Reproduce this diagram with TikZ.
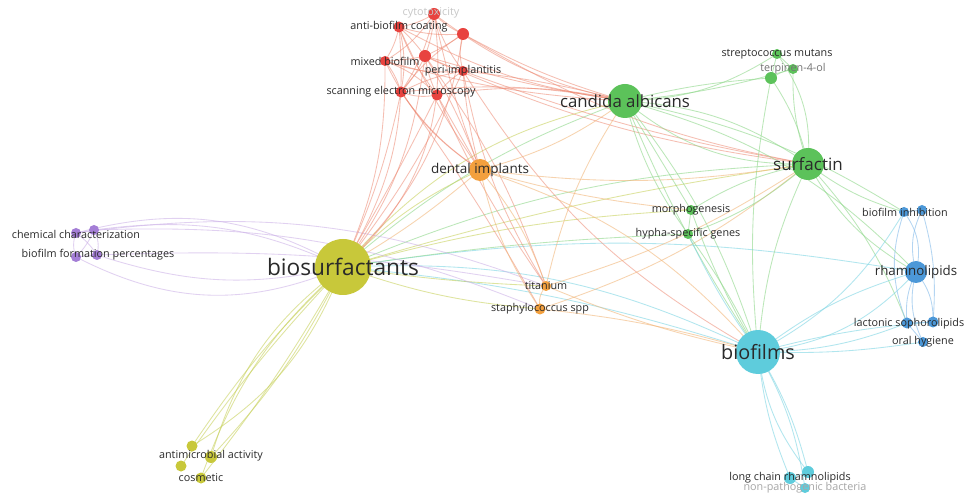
\documentclass[tikz,border=0pt]{standalone}
\usepackage{fontspec}
\setmainfont{Open Sans}
\pgfdeclarelayer{bg}\pgfdeclarelayer{fg}
\pgfsetlayers{bg,main,fg}
\definecolor{cR}{HTML}{E8433F}
\definecolor{cO}{HTML}{F3A03E}
\definecolor{cY}{HTML}{C8C83A}
\definecolor{cG}{HTML}{5CC25A}
\definecolor{cB}{HTML}{4C98D8}
\definecolor{cC}{HTML}{5ECCDC}
\definecolor{cP}{HTML}{A47ED6}
\definecolor{eRc}{HTML}{EE8A74}
\definecolor{eOc}{HTML}{F2B679}
\definecolor{eYc}{HTML}{C9D25E}
\definecolor{eGc}{HTML}{8FD88A}
\definecolor{eCc}{HTML}{7ED6E4}
\definecolor{eBc}{HTML}{8CC0EC}
\definecolor{ePc}{HTML}{CDB3E8}
\definecolor{txt}{HTML}{2A2A2A}
\begin{document}
\begin{tikzpicture}[x=1pt,y=-1pt,
  nR/.style={circle,inner sep=0pt,fill=cR,minimum size=#1},
  nO/.style={circle,inner sep=0pt,fill=cO,minimum size=#1},
  nY/.style={circle,inner sep=0pt,fill=cY,minimum size=#1},
  nG/.style={circle,inner sep=0pt,fill=cG,minimum size=#1},
  nB/.style={circle,inner sep=0pt,fill=cB,minimum size=#1},
  nC/.style={circle,inner sep=0pt,fill=cC,minimum size=#1},
  nP/.style={circle,inner sep=0pt,fill=cP,minimum size=#1},
  lab/.style={font=\fontsize{10.8}{13}\selectfont,text=txt,inner sep=0pt},
  faint/.style={font=\fontsize{10.8}{13}\selectfont,text=black!22,inner sep=0pt},
  eR/.style={draw=eRc,line width=0.85pt,opacity=0.55},
  eO/.style={draw=eOc,line width=0.85pt,opacity=0.6},
  eY/.style={draw=eYc,line width=0.85pt,opacity=0.6},
  eG/.style={draw=eGc,line width=0.85pt,opacity=0.6},
  eC/.style={draw=eCc,line width=0.85pt,opacity=0.6},
  eB/.style={draw=eBc,line width=0.85pt,opacity=0.65},
  eP/.style={draw=ePc,line width=0.85pt,opacity=0.6}]
\useasboundingbox (0,0) rectangle (964,494);
\begin{pgfonlayer}{bg}
\fill[white] (0,0) rectangle (964,494);
\end{pgfonlayer}
% nodes
\node[nY=56] (bs) at (343,267) {};
\node[nY=12] (am) at (211,457) {};
\node[nY=11] (y2) at (192,446) {};
\node[nY=11] (y3) at (181,466) {};
\node[nY=11] (cos) at (201,478) {};
\node[nP=10] (cc) at (76,233) {};
\node[nP=10] (p2) at (94,230) {};
\node[nP=10] (p3) at (76,257) {};
\node[nP=10] (bfp) at (97,255) {};
\node[nR=12] (cyt) at (434,14) {};
\node[nR=11] (abc) at (399,27) {};
\node[nR=12] (r3) at (463,34) {};
\node[nR=12] (r4) at (425,56) {};
\node[nR=10] (mb) at (385,61) {};
\node[nR=10] (pi) at (463,71) {};
\node[nR=11] (sem) at (401,92) {};
\node[nR=11] (r8) at (437,95) {};
\node[nO=22] (di) at (480,170) {};
\node[nO=10] (ti) at (546,286) {};
\node[nO=11] (st) at (540,309) {};
\node[nG=34] (ca) at (625,101) {};
\node[nG=32] (su) at (808,164) {};
\node[nG=10] (sm) at (777,54) {};
\node[nG=10] (tp) at (793,69) {};
\node[nG=12] (g3) at (771,78) {};
\node[nG=10] (mo) at (691,210) {};
\node[nG=10] (hy) at (688,234) {};
\node[nB=22] (rh) at (916,272) {};
\node[nB=10] (bi) at (904,212) {};
\node[nB=10] (b2) at (922,210) {};
\node[nB=11] (ls) at (907,323) {};
\node[nB=11] (b4) at (933,322) {};
\node[nB=10] (oh) at (923,342) {};
\node[nC=44] (bf) at (758,352) {};
\node[nC=12] (c1) at (808,472) {};
\node[nC=12] (lcr) at (790,478) {};
\node[nC=10] (npb) at (805,488) {};
% edges
\begin{pgfonlayer}{bg}
\foreach \a/\b/\s/\k in {bs/ca/eY/18, bs/ca/eG/10, bs/su/eG/10, bs/su/eY/4, bs/bf/eC/14, bs/bf/eC/6, bs/rh/eC/9,
 bs/mo/eY/6, bs/hy/eG/3, bs/ti/eY/-3, bs/st/eY/-7, bs/di/eY/10, bs/di/eO/-5,
 bs/am/eY/-18, bs/am/eY/8, bs/y2/eY/18, bs/y3/eY/-4, bs/cos/eY/-14, bs/cos/eY/4, bs/y2/eY/-6,
 cc/p2/eP/0, cc/bfp/eP/10, p2/p3/eP/10, p3/bfp/eP/0, cc/p3/eP/-20, p2/bfp/eP/20,
 cc/bs/eP/22, p2/bs/eP/16, bfp/bs/eP/-15, p3/bs/eP/-25, cc/ti/eP/14, p2/st/eP/12, bfp/ti/eP/6,
 cyt/abc/eR/10, cyt/r3/eR/-10, cyt/r4/eR/8, cyt/mb/eR/12, cyt/sem/eR/10, cyt/pi/eR/-10,
 abc/r3/eR/-10, abc/r4/eR/5, abc/mb/eR/10, abc/sem/eR/12, abc/r8/eR/-8, r3/r4/eR/5,
 r3/pi/eR/-15, r4/mb/eR/5, r4/pi/eR/-6, r4/sem/eR/8, r4/r8/eR/-8, mb/sem/eR/10,
 mb/r8/eR/12, pi/r8/eR/-10, pi/sem/eR/-8, sem/r8/eR/-15, r3/sem/eR/-10, mb/pi/eR/-12,
 cyt/ca/eR/-12, r3/ca/eR/-6, r4/ca/eR/-4, pi/ca/eR/4, abc/ca/eR/-10, mb/ca/eR/-6, r8/ca/eR/10, sem/ca/eR/8,
 r3/su/eR/-10, pi/su/eR/-5, r4/su/eR/-8,
 cyt/bs/eR/28, abc/bs/eR/18, mb/bs/eR/12, sem/bs/eR/6, r8/bs/eR/2, r4/bs/eR/14, r3/bs/eR/18, pi/bs/eR/6,
 sem/di/eR/-10, r8/di/eR/0, pi/di/eR/-5, r4/di/eR/5, mb/di/eR/-15, abc/di/eR/-5, cyt/di/eR/-4,
 r8/ti/eR/-5, pi/ti/eR/-10, sem/st/eR/3, r4/ti/eR/8, pi/bf/eR/-14,
 di/ca/eO/-10, di/su/eO/-8, di/ti/eO/10, di/st/eO/-10, di/bf/eO/15, di/mo/eO/-5,
 ti/st/eO/-25, ti/bf/eO/-5, st/bf/eO/5, ti/ca/eO/10, st/su/eO/-10, ti/su/eO/-8,
 ca/su/eG/-20, ca/su/eG/15, ca/sm/eG/-15, ca/tp/eG/-5, ca/g3/eG/5, ca/mo/eG/0, ca/hy/eG/-10,
 ca/bf/eG/-5, ca/bf/eG/10, ca/rh/eG/15, ca/bi/eG/10,
 su/sm/eG/-20, su/tp/eG/10, su/g3/eG/-10, su/mo/eG/-10, su/hy/eG/10, su/bf/eG/-10,
 su/bi/eG/-10, su/rh/eG/-15, su/ls/eG/10, sm/tp/eG/0, sm/g3/eG/0, tp/g3/eG/-10, mo/hy/eG/0,
 mo/bf/eG/-5, hy/bf/eG/5, g3/bf/eG/-8,
 bf/c1/eC/-15, bf/c1/eC/8, bf/lcr/eC/-8, bf/npb/eC/10, bf/rh/eC/-20, bf/rh/eC/10,
 bf/ls/eC/-10, bf/oh/eC/-5, bf/b4/eC/5, bf/bi/eC/-15, bf/hy/eC/5, c1/lcr/eC/0, lcr/npb/eC/0,
 rh/bi/eB/-25, rh/b2/eB/20, rh/ls/eB/-15, rh/b4/eB/20, rh/oh/eB/-20, bi/b2/eB/0,
 ls/b4/eB/0, ls/oh/eB/0, b2/b4/eB/10, bi/ls/eB/-20}
 \draw[\s] (\a.center) to[bend left=\k] (\b.center);
\end{pgfonlayer}
% labels
\begin{pgfonlayer}{fg}
\node[faint] (cyt-l) at (431,13) {cytotoxicity};
\node[lab,font=\fontsize{22.7}{27}\selectfont] (bs-l) at (bs) {biosurfactants};
\node[lab,font=\fontsize{16.8}{20}\selectfont] (ca-l) at (ca) {candida albicans};
\node[lab,font=\fontsize{17}{20}\selectfont] (su-l) at (su) {surfactin};
\node[lab,font=\fontsize{19.8}{24}\selectfont] (bf-l) at (bf) {biofilms};
\node[lab,font=\fontsize{13.3}{16}\selectfont] (rh-l) at (rh) {rhamnolipids};
\node[lab,font=\fontsize{13.5}{16}\selectfont] (di-l) at (di) {dental implants};
\node[lab] (abc-l) at (abc) {anti-biofilm coating};
\node[lab] (mb-l) at (mb) {mixed biofilm};
\node[lab] (pi-l) at (pi) {peri-implantitis};
\node[lab] (sem-l) at (sem) {scanning electron microscopy};
\node[lab] (sm-l) at (sm) {streptococcus mutans};
\node[lab,text=black!55] (tp-l) at (tp) {terpinen-4-ol};
\node[lab] (mo-l) at (mo) {morphogenesis};
\node[lab] (hy-l) at (hy) {hypha-specific genes};
\node[lab] (bi-l) at (905,212) {biofilm inhibition};
\node[lab] (ls-l) at (909,324) {lactonic sophorolipids};
\node[lab] (oh-l) at (oh) {oral hygiene};
\node[lab] (cc-l) at (76,234) {chemical characterization};
\node[lab] (bfp-l) at (98,255) {biofilm formation percentages};
\node[lab] (am-l) at (211,456) {antimicrobial activity};
\node[lab] (cos-l) at (cos) {cosmetic};
\node[lab] (lcr-l) at (lcr) {long chain rhamnolipids};
\node[lab,text=black!35] (npb-l) at (npb) {non-pathogenic bacteria};
\node[lab] (ti-l) at (ti) {titanium};
\node[lab] (st-l) at (st) {staphylococcus spp};
\end{pgfonlayer}
\end{tikzpicture}
\end{document}
